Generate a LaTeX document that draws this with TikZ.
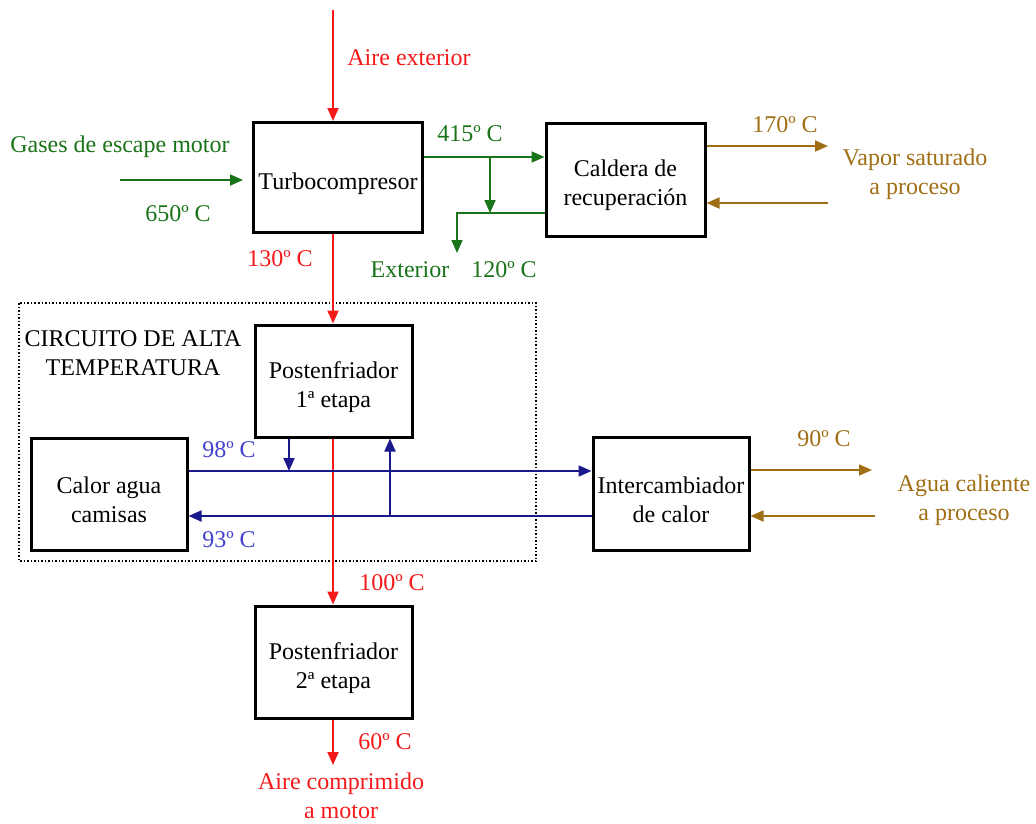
\documentclass[tikz,border=0pt]{standalone}
\usepackage{fontspec}
\setmainfont{Liberation Serif}
\usetikzlibrary{arrows.meta}
\definecolor{airred}{RGB}{245,25,25}
\definecolor{gasgreen}{RGB}{25,115,25}
\definecolor{steambrown}{RGB}{160,110,20}
\definecolor{waterline}{RGB}{25,25,140}
\definecolor{watertext}{RGB}{65,65,205}
\begin{document}
\begin{tikzpicture}[x=1pt,y=-1pt,
  every node/.style={font=\fontsize{24}{29}\selectfont, inner sep=0pt},
  blk/.style={draw=black, line width=3pt},
  boxtext/.style={align=center, yshift=-6pt},
  flow/.style={line width=1.8pt, -{Triangle[length=13pt,width=11pt]}},
  air/.style={flow, draw=airred},
  gas/.style={flow, draw=gasgreen},
  steam/.style={flow, draw=steambrown},
  water/.style={flow, draw=waterline},
  airlbl/.style={text=airred, align=center},
  gaslbl/.style={text=gasgreen, align=center},
  steamlbl/.style={text=steambrown, align=center},
  waterlbl/.style={text=watertext}]
\useasboundingbox (0,0) rectangle (1036,823);

% equipment blocks (text set slightly below the box centre)
\node[blk, minimum width=169pt, minimum height=110pt,
  label={[boxtext]center:Turbocompresor}] (turbo) at (338,177.5) {};
\node[blk, minimum width=159pt, minimum height=113pt,
  label={[boxtext]center:Caldera de\\recuperación}] (caldera) at (625.5,179.5) {};
\node[blk, minimum width=157pt, minimum height=112pt,
  label={[boxtext]center:Postenfriador\\1ª etapa}] (post1) at (333.5,381) {};
\node[blk, minimum width=156pt, minimum height=112pt,
  label={[boxtext]center:Calor agua\\camisas}] (calor) at (109,494) {};
\node[blk, minimum width=156pt, minimum height=113pt,
  label={[boxtext]center:Intercambiador\\de calor}] (inter) at (671,493.5) {};
\node[blk, minimum width=157pt, minimum height=112pt,
  label={[boxtext]center:Postenfriador\\2ª etapa}] (post2) at (333.5,662) {};

% high-temperature circuit boundary
\draw[dotted, line width=1.5pt] (19,303) rectangle (536,561);
\node[align=center] (circuito) at (133,353) {CIRCUITO DE ALTA\\TEMPERATURA};

% charge air path
\coordinate (airtop) at (333,10);
\coordinate (airout) at (333,765);
\draw[air] (airtop) -- (airtop |- turbo.north);
\draw[air] (airtop |- turbo.south) -- (airtop |- post1.north);
\draw[air] (airtop |- post1.south) -- (airtop |- post2.north);
\draw[air] (airtop |- post2.south) -- (airout);
\node[airlbl] (lairext) at (409,58) {Aire exterior};
\node[airlbl] (l130) at (280,259) {130º C};
\node[airlbl] (l100) at (392,583) {100º C};
\node[airlbl] (l60) at (385,742) {60º C};
\node[airlbl] (lairmot) at (341,796) {Aire comprimido\\a motor};

% exhaust gas path
\coordinate (gasin) at (120,180);
\coordinate (gasend) at (243,180);
\coordinate (g415) at (0,157);
\coordinate (gsplit) at (490,157);
\coordinate (gjoin) at (490,213);
\coordinate (gexit) at (457,253);
\draw[gas] (gasin) -- (gasend);
\draw[gas] (turbo.east |- g415) -- (caldera.west |- g415);
\draw[gas] (gsplit) -- (gjoin);
\draw[gas] (caldera.west |- gjoin) -| (gexit);
\node[gaslbl] (lgases) at (120,147) {Gases de escape motor};
\node[gaslbl] (l650) at (178,214) {650º C};
\node[gaslbl] (l415) at (470,134) {415º C};
\node[gaslbl] (lext) at (410,270) {Exterior};
\node[gaslbl] (l120) at (504,270) {120º C};

% steam circuit
\coordinate (vapout) at (828,146);
\coordinate (vapin) at (828,203);
\draw[steam] (vapout -| caldera.east) -- (vapout);
\draw[steam] (vapin) -- (vapin -| caldera.east);
\node[steamlbl] (l170) at (785,125) {170º C};
\node[steamlbl] (lvapor) at (915,174) {Vapor saturado\\a proceso};

% hot water circuit
\coordinate (aguaout) at (872,470);
\coordinate (aguain) at (875,516);
\draw[steam] (aguaout -| inter.east) -- (aguaout);
\draw[steam] (aguain) -- (aguain -| inter.east);
\node[steamlbl] (l90) at (824,439) {90º C};
\node[steamlbl] (lagua) at (964,500) {Agua caliente\\a proceso};

% jacket water circuit
\coordinate (b98) at (0,471);
\coordinate (b93) at (0,516);
\coordinate (bdown) at (289,471);
\coordinate (bup) at (390,516);
\draw[water] (calor.east |- b98) -- (inter.west |- b98);
\draw[water] (inter.west |- b93) -- (calor.east |- b93);
\draw[water] (bdown |- post1.south) -- (bdown);
\draw[water] (bup) -- (bup |- post1.south);
\node[waterlbl] (l98) at (229,450) {98º C};
\node[waterlbl] (l93) at (229,540) {93º C};
\end{tikzpicture}
\end{document}
